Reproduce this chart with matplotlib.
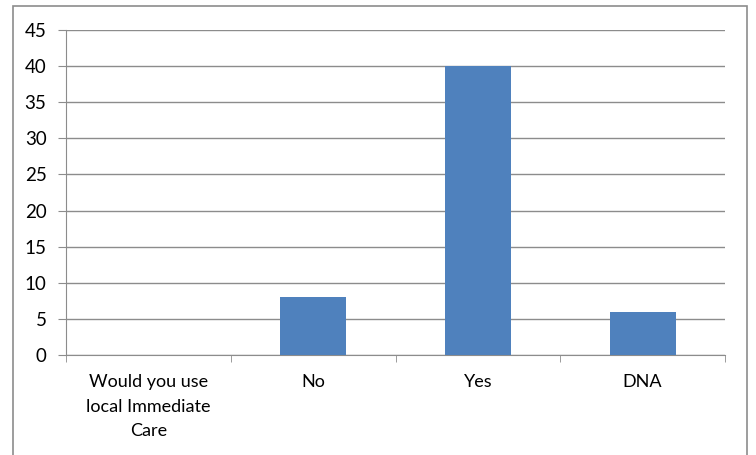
import matplotlib
matplotlib.use("Agg")
import matplotlib.pyplot as plt
from matplotlib.patches import Rectangle
import numpy as np

categories = ["Would you use\nlocal Immediate\nCare", "No", "Yes", "DNA"]
values = [0, 8, 40, 6]
yticks = [0, 5, 10, 15, 20, 25, 30, 35, 40, 45]

plt.rcParams['font.family'] = ['Lato', 'DejaVu Sans']

fig = plt.figure(figsize=(7.56, 4.55), dpi=100)
ax = fig.add_axes([66/756, 1 - 355/455, (725 - 66)/756, (355 - 30)/455])

# outer chart border
fig.patches.append(Rectangle((13/756, -0.05), (747 - 13)/756, 1.05 - 6/455,
                             transform=fig.transFigure, fill=False,
                             edgecolor="#8c8c8c", linewidth=1.2))

x = np.arange(len(categories))
ax.bar(x, values, width=0.4, color="#4F81BD", zorder=3)

ax.set_xlim(-0.5, len(categories) - 0.5)
ax.set_ylim(0, 45)
ax.set_yticks(yticks)
ax.yaxis.grid(True, color="#8c8c8c", linewidth=1.0)
ax.set_axisbelow(True)

ax.set_xticks(x)
ax.set_xticklabels(categories, fontsize=13, linespacing=1.65)
ax.set_xticks(np.arange(-0.5, len(categories)), minor=True)
ax.tick_params(axis="x", which="major", length=0, pad=14)
ax.tick_params(axis="x", which="minor", length=5, color="#8c8c8c")
ax.tick_params(axis="y", length=6, color="#8c8c8c", labelsize=13.5, pad=8)

for side in ["top", "right"]:
    ax.spines[side].set_visible(False)
for side in ["left", "bottom"]:
    ax.spines[side].set_color("#8c8c8c")

fig.savefig("out.png", dpi=100)
